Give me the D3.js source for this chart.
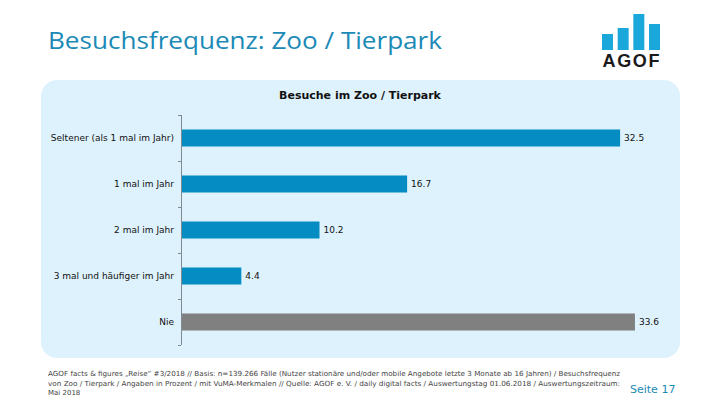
<!DOCTYPE html>
<html><head><meta charset="utf-8">
<script src="https://cdn.jsdelivr.net/npm/d3@7"></script>
<style>body{margin:0;background:#fff;} svg{display:block;}</style>
</head><body>
<svg id="c" width="720" height="405"></svg>
<script>
const categories = ["Seltener (als 1 mal im Jahr)", "1 mal im Jahr", "2 mal im Jahr", "3 mal und häufiger im Jahr", "Nie"];
const values = [32.5, 16.7, 10.2, 4.4, 33.6];
const barColors = ["#058dc3", "#058dc3", "#058dc3", "#058dc3", "#808080"];
const logoBars = [34, 28, 14, 24];
const footerLines = [
  "AGOF facts & figures „Reise“ #3/2018 // Basis: n=139.266 Fälle (Nutzer stationäre und/oder mobile Angebote letzte 3 Monate ab 16 Jahren) / Besuchsfrequenz",
  "von Zoo / Tierpark / Angaben in Prozent / mit VuMA-Merkmalen // Quelle: AGOF e. V. / daily digital facts / Auswertungstag 01.06.2018 / Auswertungszeitraum:",
  "Mai 2018"
];

const svg = d3.select("#c");

// Title
svg.append("text").attr("x", 48).attr("y", 49)
  .attr("font-family", "'Open Sans', Verdana, sans-serif")
  .attr("font-size", 23).attr("fill", "#1b8ab6")
  .attr("textLength", 394).attr("lengthAdjust", "spacingAndGlyphs")
  .text("Besuchsfrequenz: Zoo / Tierpark");

// Logo
const lx = d3.scaleBand().domain(d3.range(logoBars.length)).range([602, 660]).paddingInner(0.3);
svg.selectAll("rect.logo").data(logoBars).join("rect").attr("class", "logo")
  .attr("x", (d, i) => lx(i)).attr("width", lx.bandwidth())
  .attr("y", d => d).attr("height", d => 50 - d).attr("fill", "#1aa7da");
svg.append("text").attr("x", 631).attr("y", 67).attr("text-anchor", "middle")
  .attr("font-family", "'Liberation Sans', Arial, sans-serif").attr("font-weight", "bold")
  .attr("font-size", 18).attr("fill", "#1a1a1a").attr("textLength", 57).text("AGOF");

// Panel
svg.append("rect").attr("x", 41).attr("y", 80).attr("width", 639).attr("height", 278)
  .attr("rx", 16).attr("fill", "#def2fd");

svg.append("text").attr("x", 360).attr("y", 99).attr("text-anchor", "middle")
  .attr("font-family", "Verdana, 'DejaVu Sans', sans-serif").attr("font-weight", "bold")
  .attr("font-size", 11).attr("fill", "#111").text("Besuche im Zoo / Tierpark");

const x0 = 181;
const x = d3.scaleLinear().domain([0, 35]).range([x0, x0 + 13.48 * 35]);
const y = d3.scaleBand().domain(categories).range([115, 345]).paddingInner(0.63).paddingOuter(0.315);

// axis line and ticks at band boundaries
const g = svg.append("g");
g.append("line").attr("x1", x0 + 0.5).attr("x2", x0 + 0.5).attr("y1", 115).attr("y2", 345)
  .attr("stroke", "#7f8a93").attr("stroke-width", 1);
const step = y.step();
const tickYs = d3.range(categories.length + 1).map(i => 115 + i * step);
g.selectAll("line.tk").data(tickYs).join("line").attr("class", "tk")
  .attr("x1", x0 - 3).attr("x2", x0).attr("y1", d => Math.round(d) + 0.5).attr("y2", d => Math.round(d) + 0.5)
  .attr("stroke", "#7f8a93");

// bars
svg.selectAll("rect.bar").data(values).join("rect").attr("class", "bar")
  .attr("x", x(0) + 1).attr("y", (d, i) => y(categories[i]))
  .attr("width", d => x(d) - x(0)).attr("height", y.bandwidth())
  .attr("fill", (d, i) => barColors[i]);

// category labels
svg.selectAll("text.cat").data(categories).join("text").attr("class", "cat")
  .attr("x", 174).attr("y", d => y(d) + y.bandwidth() / 2 + 3)
  .attr("text-anchor", "end").attr("font-family", "Verdana, 'DejaVu Sans', sans-serif")
  .attr("font-size", 9).attr("fill", "#111").text(d => d);

// value labels
svg.selectAll("text.val").data(values).join("text").attr("class", "val")
  .attr("x", d => x(d) + 5).attr("y", (d, i) => y(categories[i]) + y.bandwidth() / 2 + 3)
  .attr("font-family", "Verdana, 'DejaVu Sans', sans-serif")
  .attr("font-size", 9).attr("fill", "#111").text(d => d.toFixed(1));

// footer
const fw = [572, 572, 0];
svg.selectAll("text.ft").data(footerLines).join("text").attr("class", "ft")
  .attr("x", 48).attr("y", (d, i) => 376 + i * 9.5)
  .attr("font-family", "Verdana, 'DejaVu Sans', sans-serif")
  .attr("font-size", 7).attr("fill", "#444")
  .each(function(d, i) { if (fw[i]) d3.select(this).attr("textLength", fw[i]).attr("lengthAdjust", "spacingAndGlyphs"); })
  .text(d => d);

svg.append("text").attr("x", 630).attr("y", 393)
  .attr("font-family", "Verdana, 'DejaVu Sans', sans-serif")
  .attr("font-size", 11).attr("fill", "#1b8ab6").text("Seite 17");
</script>
</body></html>
